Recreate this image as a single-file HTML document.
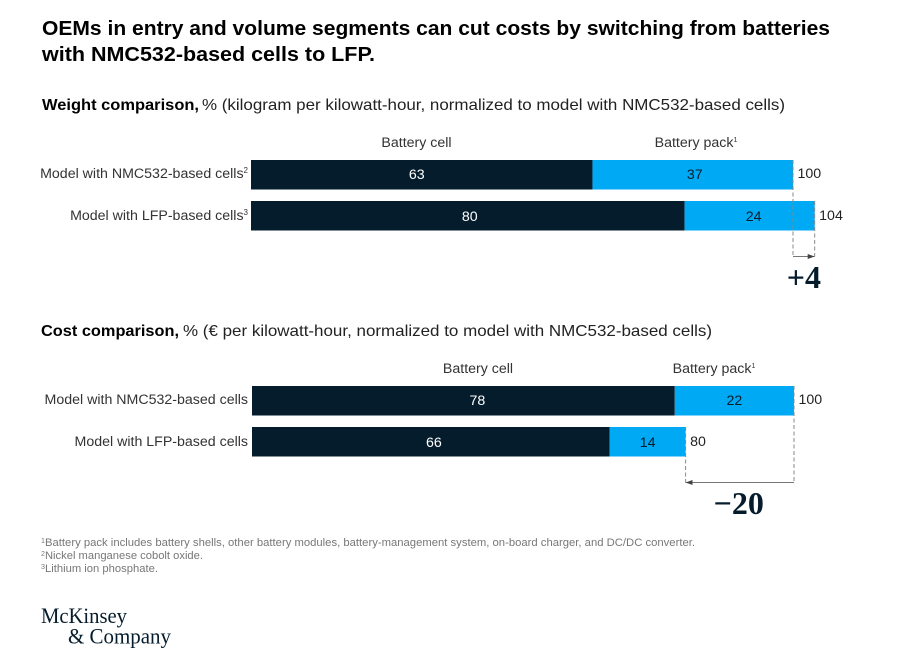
<!DOCTYPE html>
<html lang="en">
<head>
<meta charset="utf-8">
<title>Weight and cost comparison</title>
<style>
html,body{margin:0;padding:0;background:#fff;width:898px;height:657px;overflow:hidden}
svg{display:block;font-family:"Liberation Sans",sans-serif}
</style>
</head>
<body>
<svg id="chart" xmlns="http://www.w3.org/2000/svg" width="898" height="657" viewBox="0 0 898 657">
  <defs>
    <marker id="arrow-right" markerWidth="8" markerHeight="6" refX="7" refY="2.5" orient="auto" markerUnits="userSpaceOnUse"><path d="M0,0 L7,2.5 L0,5 Z" fill="#444"/></marker>
  </defs>
  <g font-size="20" font-weight="700" fill="#000">
    <text x="42" y="35" textLength="788" lengthAdjust="spacingAndGlyphs">OEMs in entry and volume segments can cut costs by switching from batteries</text>
    <text x="42" y="61" textLength="333" lengthAdjust="spacingAndGlyphs">with NMC532-based cells to LFP.</text>
  </g>
  <g font-size="16">
    <text x="42" y="110" font-weight="700" fill="#000" textLength="157" lengthAdjust="spacingAndGlyphs">Weight comparison,</text>
    <text x="202" y="110" fill="#222" textLength="583" lengthAdjust="spacingAndGlyphs">% (kilogram per kilowatt-hour, normalized to model with NMC532-based cells)</text>
  </g>
  <g font-size="16">
    <text x="41" y="336" font-weight="700" fill="#000" textLength="138" lengthAdjust="spacingAndGlyphs">Cost comparison,</text>
    <text x="183" y="336" fill="#222" textLength="529" lengthAdjust="spacingAndGlyphs">% (€ per kilowatt-hour, normalized to model with NMC532-based cells)</text>
  </g>
  <g id="weight-plot"></g>
  <g id="cost-plot"></g>
  <g font-size="11" fill="#777">
    <text x="41" y="546" textLength="654" lengthAdjust="spacingAndGlyphs"><tspan font-size="7" dy="-3">1</tspan><tspan dy="3">Battery pack includes battery shells, other battery modules, battery-management system, on-board charger, and DC/DC converter.</tspan></text>
    <text x="41" y="559" textLength="162" lengthAdjust="spacingAndGlyphs"><tspan font-size="7" dy="-3">2</tspan><tspan dy="3">Nickel manganese cobolt oxide.</tspan></text>
    <text x="41" y="572" textLength="117" lengthAdjust="spacingAndGlyphs"><tspan font-size="7" dy="-3">3</tspan><tspan dy="3">Lithium ion phosphate.</tspan></text>
  </g>
  <g font-family="'Liberation Serif',serif" font-size="22" fill="#051c2c">
    <text x="41" y="623" textLength="86" lengthAdjust="spacingAndGlyphs">McKinsey</text>
    <text x="68" y="643.5" textLength="103" lengthAdjust="spacingAndGlyphs">&amp; Company</text>
  </g>
</svg>
<script>
// Weight comparison data
const weightCategories = ['Model with NMC532-based cells', 'Model with LFP-based cells'];
const weightNotes = ['2', '3'];
const weightCell = [63, 80];
const weightPack = [37, 24];
// Cost comparison data
const costCategories = ['Model with NMC532-based cells', 'Model with LFP-based cells'];
const costNotes = ['', ''];
const costCell = [78, 66];
const costPack = [22, 14];

const NS = 'http://www.w3.org/2000/svg';
const UNIT = 5.42;

function mk(parent, tag, props, content) {
  const el = document.createElementNS(NS, tag);
  for (const k in props) el.setAttribute(k, props[k]);
  if (content !== undefined) el.textContent = content;
  parent.appendChild(el);
  return el;
}

function drawPlot(plot, cfg) {
  const x = v => cfg.x0 + v * UNIT;
  const y = i => cfg.top + i * 41;
  const H = 29.5;
  const totals = cfg.cell.map((c, i) => c + cfg.pack[i]);

  const h1 = mk(plot, 'text', {x: cfg.cellHeadX, y: cfg.top - 13, 'font-size': 14.2, fill: '#333', 'text-anchor': 'middle'}, 'Battery cell');
  
  

  const h2 = mk(plot, 'text', {x: cfg.packHeadX, y: cfg.top - 13, 'font-size': 14.2, fill: '#333', 'text-anchor': 'middle'}, 'Battery pack');
  
  
  const h2s = mk(h2, 'tspan', {'font-size': 7, dy: -5}, '1');
  
  

  cfg.categories.forEach((name, i) => {
    const lineY = y(i) + 18 + i;
    const valueY = y(i) + 19 + i;

    const cat = mk(plot, 'text', {x: cfg.labelEnd, y: lineY, 'font-size': 14.2, fill: '#333', 'text-anchor': 'end'}, name);
    
    
    if (cfg.notes[i]) {
      const sup = mk(cat, 'tspan', {'font-size': 8, dy: -5}, cfg.notes[i]);
      
      
    }

    const cellBar = mk(plot, 'rect', {x: x(0), y: y(i), width: x(cfg.cell[i]) - x(0), height: H, fill: '#051c2c'});
    
    

    const packBar = mk(plot, 'rect', {x: x(cfg.cell[i]), y: y(i), width: x(totals[i]) - x(cfg.cell[i]), height: H, fill: '#00a9f4'});
    
    

    const cellVal = mk(plot, 'text', {x: x(cfg.cell[i] / 2) + cfg.cellNudge[i], y: valueY, 'font-size': 14.2, fill: '#fff', 'text-anchor': 'middle'}, String(cfg.cell[i]));
    
    

    const packVal = mk(plot, 'text', {x: x(cfg.cell[i] + cfg.pack[i] / 2) + cfg.packNudge[i], y: valueY, 'font-size': 14.2, fill: '#051c2c', 'text-anchor': 'middle'}, String(cfg.pack[i]));
    
    

    const total = mk(plot, 'text', {x: x(totals[i]) + 4.5, y: lineY, 'font-size': 14.2, fill: '#222'}, String(totals[i]));
    
    
  });

  // Difference bracket between the two totals
  const bracketY = y(1) + H + cfg.bracketGap;
  const d0 = mk(plot, 'line', {x1: x(totals[0]), x2: x(totals[0]), y1: y(0), y2: bracketY, stroke: '#888', 'stroke-width': 1, 'stroke-dasharray': '4 2.5'});
  
  

  const d1 = mk(plot, 'line', {x1: x(totals[1]), x2: x(totals[1]), y1: y(1), y2: bracketY, stroke: '#888', 'stroke-width': 1, 'stroke-dasharray': '4 2.5'});
  
  

  const arrow = mk(plot, 'line', {x1: x(totals[0]), x2: x(totals[1]), y1: bracketY, y2: bracketY, stroke: '#777', 'stroke-width': 1, 'marker-end': 'url(#arrow-right)'});
  
  

  const diff = totals[1] - totals[0];
  const delta = mk(plot, 'text', {
    x: (x(totals[0]) + x(totals[1])) / 2 + cfg.deltaNudge,
    y: bracketY + 31.5,
    'font-family': "'Liberation Serif',serif",
    'font-size': 32,
    'font-weight': 700,
    fill: '#051c2c',
    'text-anchor': 'middle'
  }, (diff > 0 ? '+' : '\u2212') + Math.abs(diff));
  
  
}

drawPlot(document.getElementById('weight-plot'), {
  categories: weightCategories, notes: weightNotes, cell: weightCell, pack: weightPack,
  x0: 251, top: 160, labelEnd: 248, cellHeadX: 416.5, packHeadX: 696, bracketGap: 26,
  cellNudge: [-5, 2], packNudge: [2, 4], deltaNudge: 0
});
drawPlot(document.getElementById('cost-plot'), {
  categories: costCategories, notes: costNotes, cell: costCell, pack: costPack,
  x0: 252, top: 386, labelEnd: 248, cellHeadX: 478, packHeadX: 714, bracketGap: 26,
  cellNudge: [14, 3], packNudge: [0, 0], deltaNudge: -1
});
</script>
</body>
</html>
